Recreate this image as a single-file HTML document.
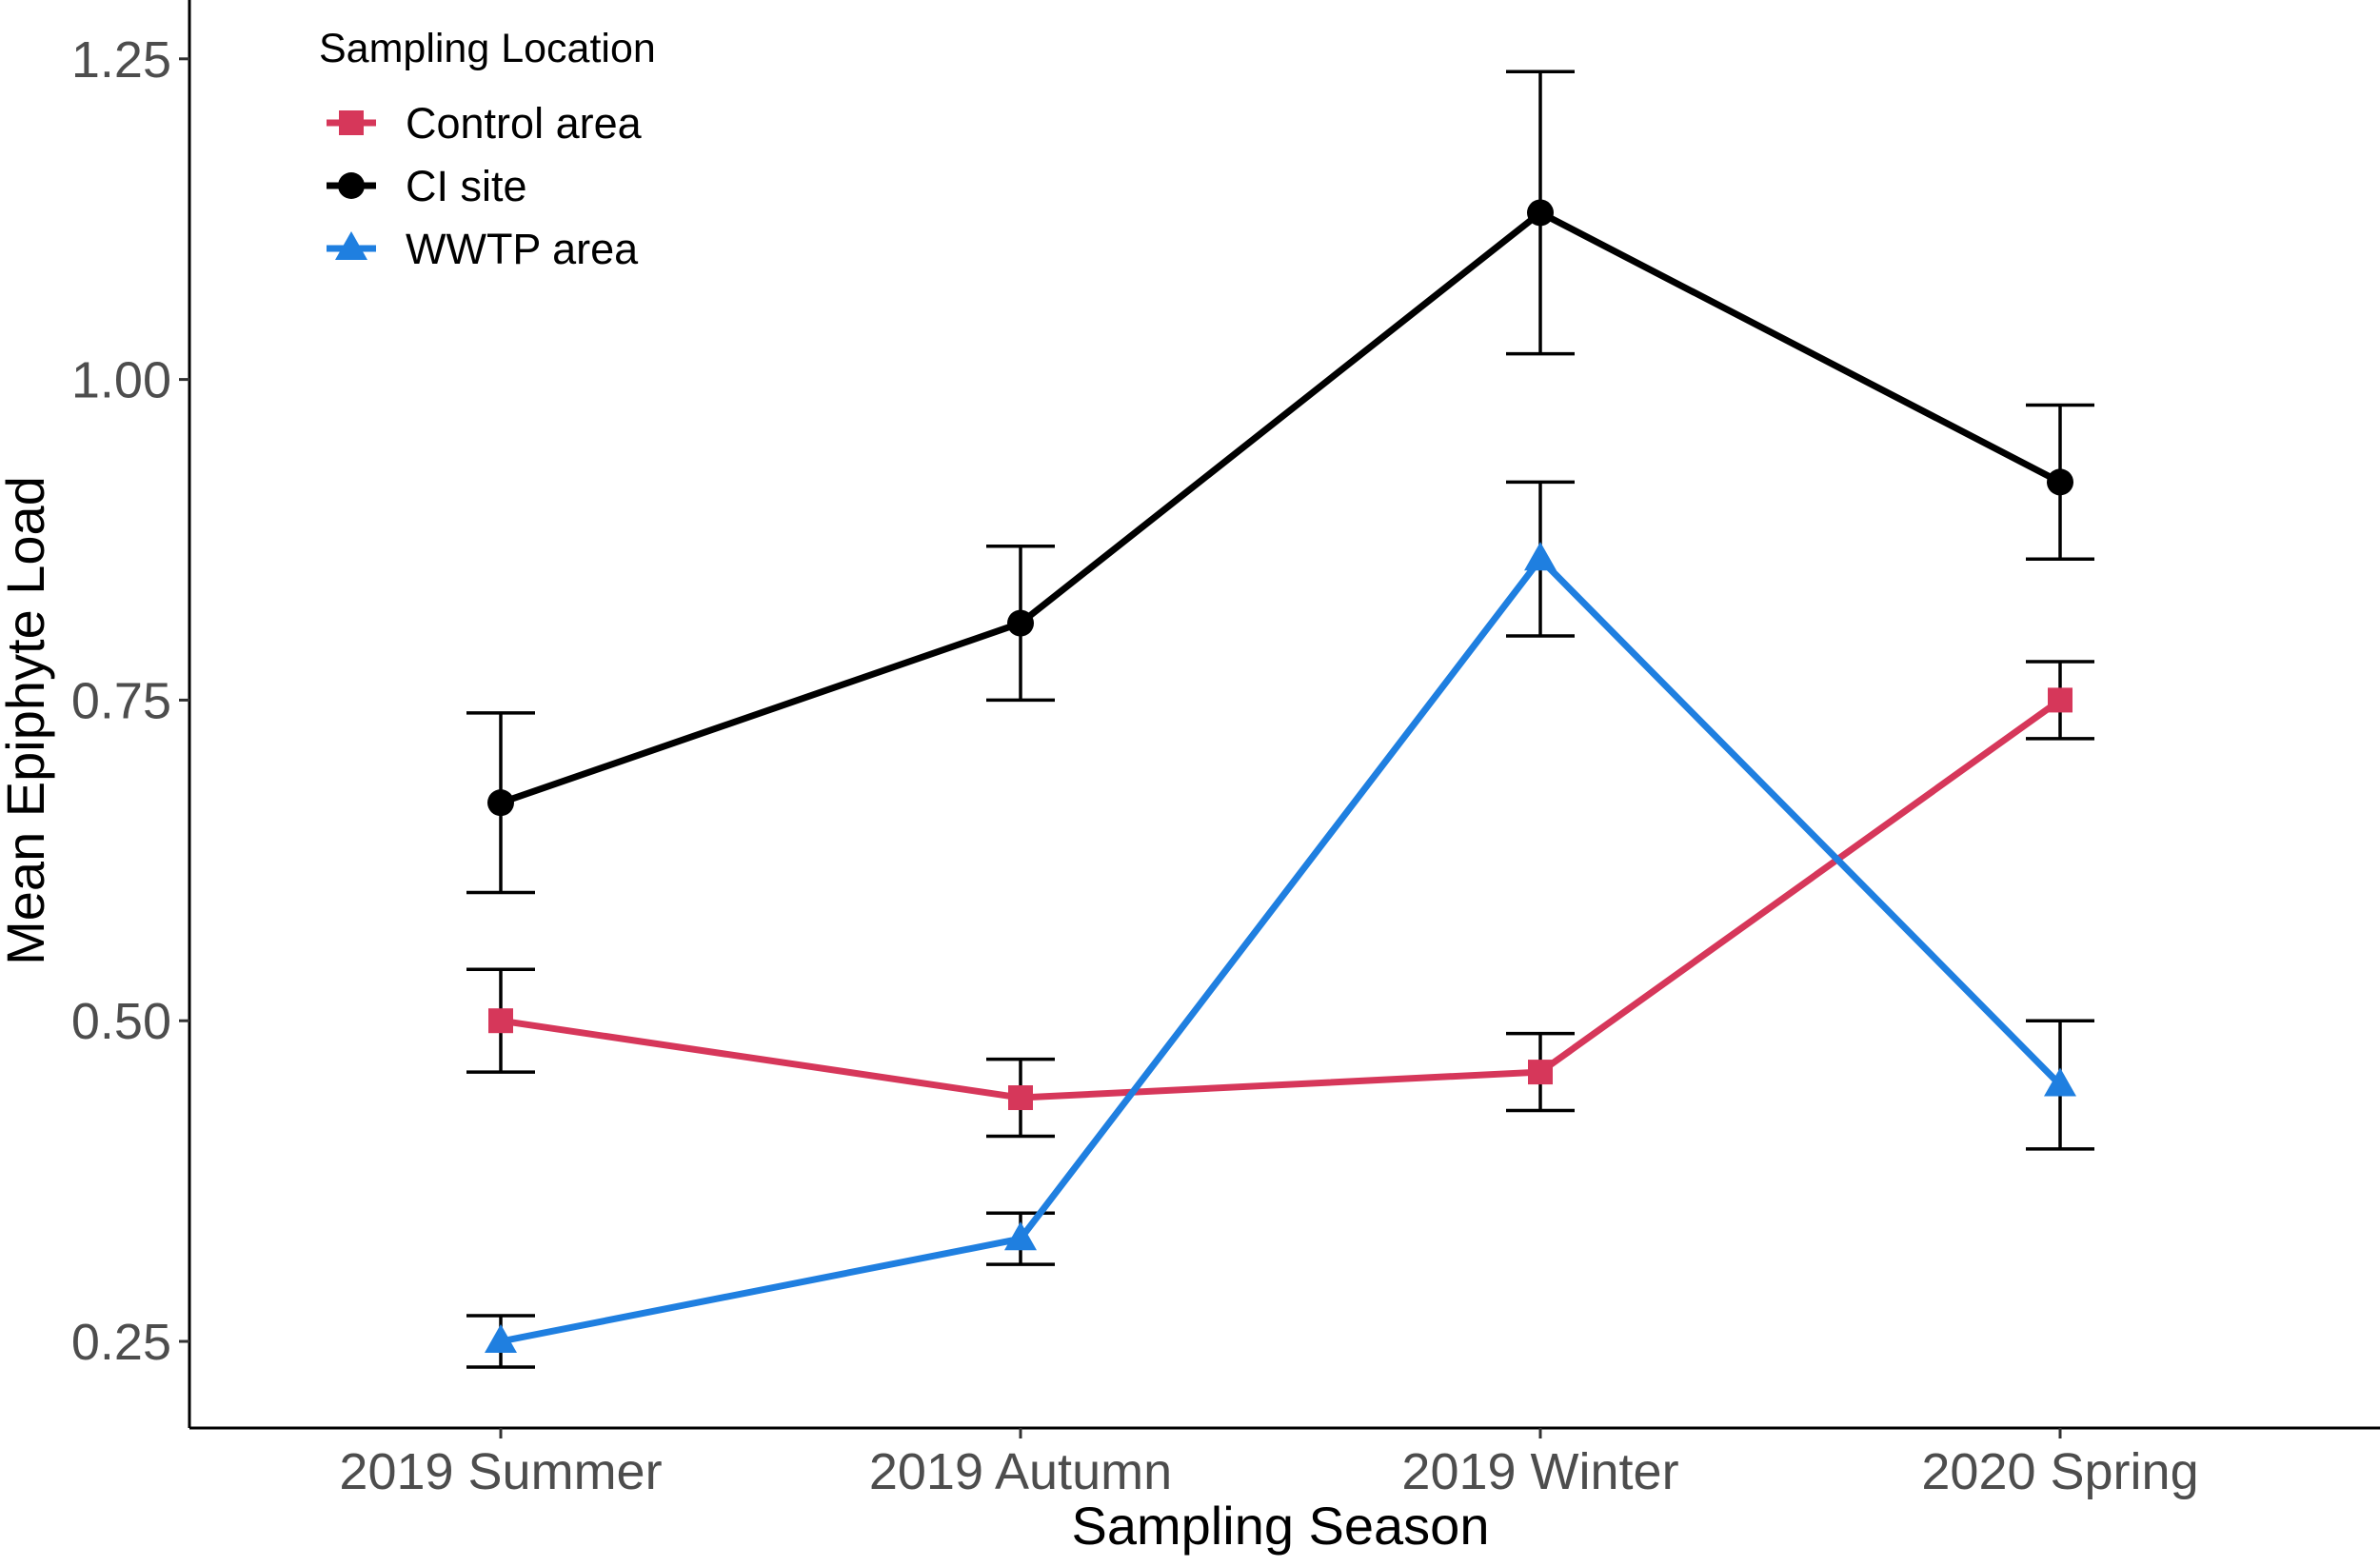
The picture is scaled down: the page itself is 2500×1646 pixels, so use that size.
<!DOCTYPE html>
<html><head><meta charset="utf-8"><style>
html,body{margin:0;padding:0;background:#fff}
svg{display:block;font-family:"Liberation Sans",Arial,sans-serif}
</style></head><body>
<svg id="chart" width="2500" height="1646" viewBox="0 0 2500 1646">
<line x1="199" y1="0" x2="199" y2="1500" stroke="#000" stroke-width="3"/>
<line x1="199" y1="1500" x2="2500" y2="1500" stroke="#000" stroke-width="3"/>
<g id="yticks"></g>
<g id="xticks"></g>
<g id="series"></g>
<text x="1345" y="1622" font-size="56" text-anchor="middle" fill="#000">Sampling Season</text>
<text transform="translate(46,757) rotate(-90)" font-size="56" text-anchor="middle" fill="#000">Mean Epiphyte Load</text>
<g id="legend">
<text x="335" y="65" font-size="43" fill="#000">Sampling Location</text>
</g>
</svg>
<script>
const categories=["2019 Summer","2019 Autumn","2019 Winter","2020 Spring"];
const yTicks=[0.25,0.50,0.75,1.00,1.25];
const seriesNames=["Control area","CI site","WWTP area"];
const controlMean=[0.50,0.44,0.46,0.75];
const controlLo=[0.46,0.41,0.43,0.72];
const controlHi=[0.54,0.47,0.49,0.78];
const ciMean=[0.67,0.81,1.13,0.92];
const ciLo=[0.60,0.75,1.02,0.86];
const ciHi=[0.74,0.87,1.24,0.98];
const wwtpMean=[0.25,0.33,0.86,0.45];
const wwtpLo=[0.23,0.31,0.80,0.40];
const wwtpHi=[0.27,0.35,0.92,0.50];

const NS="http://www.w3.org/2000/svg";
const y=v=>1409-(v-0.25)/0.25*336.8;
const x=i=>526+i*546;
function mk(tag,attrs,parent){const e=document.createElementNS(NS,tag);for(const k in attrs)e.setAttribute(k,attrs[k]);parent.appendChild(e);return e;}
const yt=document.getElementById('yticks');
yTicks.forEach(v=>{
  const l=mk('line',{x1:188,x2:199,y1:y(v),y2:y(v),stroke:'#333','stroke-width':3},yt);
  
  
  const t=mk('text',{x:180,y:y(v)+19,'font-size':54,'text-anchor':'end',fill:'#4d4d4d'},yt);
  t.textContent=v.toFixed(2);
  
  
});
const xt=document.getElementById('xticks');
categories.forEach((c,i)=>{
  const l=mk('line',{x1:x(i),x2:x(i),y1:1500,y2:1511,stroke:'#333','stroke-width':3},xt);
  
  
  const t=mk('text',{x:x(i),y:1564,'font-size':54,'text-anchor':'middle',fill:'#4d4d4d'},xt);
  t.textContent=c;
  
  
});
const sg=document.getElementById('series');
const defs=[
 {name:'control',color:'#d6375a',shape:'square',m:controlMean,lo:controlLo,hi:controlHi},
 {name:'ci',color:'#000000',shape:'circle',m:ciMean,lo:ciLo,hi:ciHi},
 {name:'wwtp',color:'#1f7fe0',shape:'triangle',m:wwtpMean,lo:wwtpLo,hi:wwtpHi}
];
function shape(s,cx,cy,color,g,name){
  let e;
  if(s==='square')e=mk('rect',{x:cx-13,y:cy-13,width:26,height:26,fill:color},g);
  else if(s==='circle')e=mk('circle',{cx:cx,cy:cy,r:14,fill:color},g);
  else e=mk('polygon',{points:`${cx},${cy-18} ${cx+17},${cy+12} ${cx-17},${cy+12}`,fill:color},g);
  
  
}
defs.forEach(d=>{
  const g=mk('g',{},sg);
  
  
  d.m.forEach((v,i)=>{
    const eb=mk('path',{d:`M${x(i)-36},${y(d.hi[i])}H${x(i)+36}M${x(i)},${y(d.hi[i])}V${y(d.lo[i])}M${x(i)-36},${y(d.lo[i])}H${x(i)+36}`,stroke:'#000','stroke-width':3.5,fill:'none'},g);
    
    
  });
  const ln=mk('polyline',{points:d.m.map((v,i)=>x(i)+','+y(v)).join(' '),stroke:d.color,'stroke-width':7,fill:'none'},g);
  
  
  d.m.forEach((v,i)=>shape(d.shape,x(i),y(v),d.color,g,d.name+'-point'));
});
const lg=document.getElementById('legend');
defs.forEach((d,k)=>{
  const cy=129+k*66;
  const g=mk('g',{},lg);
  
  
  mk('line',{x1:343,x2:395,y1:cy,y2:cy,stroke:d.color,'stroke-width':7},g);
  shape(d.shape,369,cy,d.color,g,'legend-key');
  const t=mk('text',{x:426,y:cy+16,'font-size':45,fill:'#000'},g);
  t.textContent=seriesNames[k];
  
  
});
</script>
</body></html>
